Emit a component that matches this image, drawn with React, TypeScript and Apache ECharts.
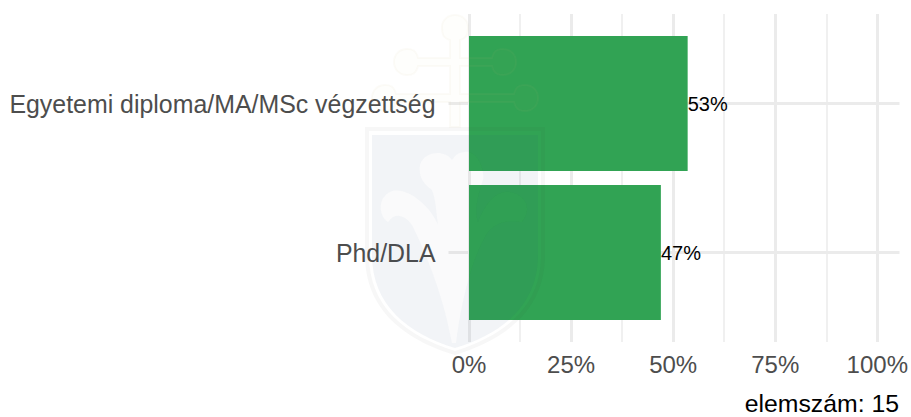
import React, { useEffect, useRef } from "react";
import * as echarts from "echarts";

const categories = ["Phd/DLA", "Egyetemi diploma/MA/MSc végzettség"];
const shares = [46.8, 53.33];
const tickLabels = ["0%", "25%", "50%", "75%", "100%"];
const footnote = "elemszám: 15";

const FONT = "'Liberation Sans', Arial, sans-serif";

const CROSS =
  "M450 40 C443 38 442 34 442 27 C442 20 448 15 455 15 C462 15 468 20 468 27 C468 34 467 38 460 40 L460 58 L492 58 C494 50 498 49 503 49 C511 49 516 55 516 62 C516 69 511 75 503 75 C498 75 494 74 492 66 L460 66 L460 94 L514 94 C516 86 520 85 525 85 C533 85 538 91 538 98 C538 105 533 111 525 111 C520 111 516 110 514 102 L460 102 L460 127 L450 127 L450 102 L396 102 C394 110 390 111 385 111 C377 111 372 105 372 98 C372 91 377 85 385 85 C390 85 394 86 396 94 L450 94 L450 66 L418 66 C416 74 412 75 407 75 C399 75 394 69 394 62 C394 55 399 49 407 49 C412 49 416 50 418 58 L450 58 Z";
const SHIELD_OUTER =
  "M365 127 L545 127 L545 255 C545 310 505 340 455 355 C405 340 365 310 365 255 Z M369 131 L369 255 C369 308 407 336 455 351 C503 336 541 308 541 255 L541 131 Z";
const PLANT =
  "M452 160 C445 150 425 150 420 165 C418 178 425 185 432 190 C436 200 436 210 438 225 C430 205 405 185 390 192 C378 198 378 215 388 222 C395 212 405 215 412 225 C425 250 440 290 447 320 L452 343 L456 343 C460 310 470 260 488 232 C500 218 515 222 522 222 C532 210 527 195 510 192 C495 190 485 205 478 222 C474 210 478 195 483 180 C485 165 475 150 465 152 C458 152 455 156 452 160 Z";
const SHIELD_INNER =
  "M372 135 L538 135 L538 255 C538 305 502 334 455 348 C408 334 372 305 372 255 Z " + PLANT;

echarts.graphic.registerShape("wmCross", echarts.graphic.extendPath(CROSS, {}) as any);
echarts.graphic.registerShape("wmShieldOuter", echarts.graphic.extendPath(SHIELD_OUTER, {}) as any);
echarts.graphic.registerShape("wmShieldInner", echarts.graphic.extendPath(SHIELD_INNER, {}) as any);
echarts.graphic.registerShape("wmPlant", echarts.graphic.extendPath(PLANT, {}) as any);

export default function App() {
  const ref = useRef<HTMLDivElement>(null);
  useEffect(() => {
    const chart = echarts.init(ref.current!, null, { renderer: "svg" });
    chart.setOption({
      animation: false,
      backgroundColor: "#ffffff",
      textStyle: { fontFamily: FONT },
      grid: [
        { left: 469, top: 14, width: 410, height: 328 },
        { left: 448.5, top: 103.5, width: 451, height: 149 },
        { left: 469, top: 29, width: 410, height: 298 },
      ],
      xAxis: [
        {
          gridIndex: 0,
          type: "value",
          min: 0,
          max: 100,
          interval: 25,
          axisLine: { show: false },
          axisTick: { show: false },
          minorTick: { show: false, splitNumber: 2 },
          splitLine: { show: true, lineStyle: { color: "#ebebeb", width: 3 } },
          minorSplitLine: { show: true, lineStyle: { color: "#ebebeb", width: 1.5 } },
          axisLabel: {
            color: "#4d4d4d",
            fontSize: 24,
            fontFamily: FONT,
            margin: 10,
            hideOverlap: false,
            formatter: (v: number) => tickLabels[v / 25],
          },
        },
        { gridIndex: 1, type: "value", min: 0, max: 1, show: false },
        { gridIndex: 2, type: "value", min: 0, max: 100, show: false },
      ],
      yAxis: [
        { gridIndex: 0, type: "value", min: 0, max: 1, show: false },
        {
          gridIndex: 1,
          type: "category",
          boundaryGap: false,
          data: categories,
          axisLine: { show: false },
          axisTick: { show: false },
          splitLine: { show: true, interval: 0, lineStyle: { color: "#ebebeb", width: 3 } },
          axisLabel: { color: "#4d4d4d", fontSize: 24.9, fontFamily: FONT, margin: 13, interval: 0 },
        },
        { gridIndex: 2, type: "category", data: categories, show: false },
      ],
      series: [
        {
          type: "bar",
          xAxisIndex: 2,
          yAxisIndex: 2,
          data: shares,
          barWidth: 135,
          itemStyle: { color: "#31a354" },
          label: {
            show: true,
            position: "right",
            distance: 0,
            color: "#000000",
            fontSize: 20,
            fontFamily: FONT,
            formatter: (p: any) => Math.round(p.value) + "%",
          },
        },
      ],
      graphic: [
        { type: "wmCross", x: 0, y: 0, z: 50, silent: true, style: { fill: "rgba(200,190,120,0.02)", stroke: "rgba(200,190,120,0.055)", lineWidth: 2 } },
        { type: "wmShieldOuter", x: 0, y: 0, z: 50, silent: true, style: { fill: "rgba(40,40,60,0.04)" } },
        { type: "wmShieldInner", x: 0, y: 0, z: 50, silent: true, style: { fill: "rgba(30,60,120,0.06)" } },
        { type: "wmPlant", x: 0, y: 0, z: 50, silent: true, style: { fill: "rgba(60,60,90,0.025)" } },
        {
          type: "text",
          right: 12,
          top: 391,
          z: 60,
          style: { text: footnote, fill: "#000000", fontSize: 24.8, fontFamily: FONT },
        },
      ],
    });
    return () => chart.dispose();
  }, []);
  return <div ref={ref} style={{ position: "fixed", left: 0, top: 0, width: 911, height: 417 }} />;
}
